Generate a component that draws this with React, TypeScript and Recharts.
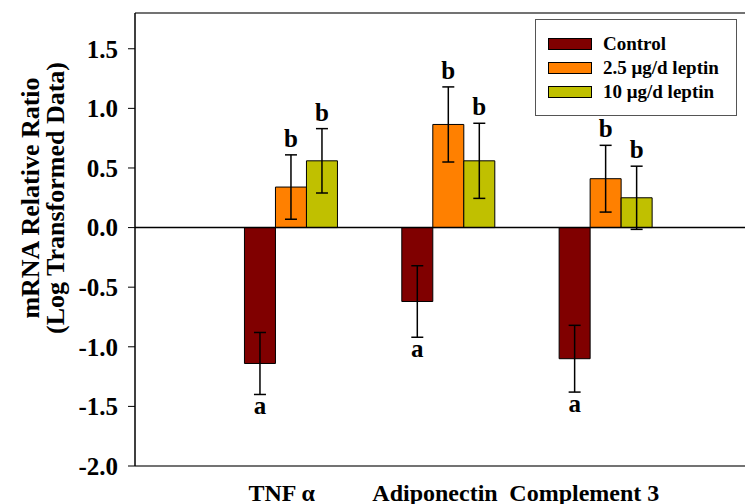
import React from "react";
import {
  BarChart,
  Bar,
  XAxis,
  YAxis,
  ErrorBar,
  ReferenceLine,
  Legend,
  LabelList,
} from "recharts";

const genes = ["TNF α", "Adiponectin", "Complement 3"];
const control = [-1.14, -0.62, -1.1];
const controlErr = [0.26, 0.3, 0.28];
const lowDose = [0.34, 0.865, 0.41];
const lowDoseErr = [0.27, 0.315, 0.28];
const highDose = [0.56, 0.56, 0.25];
const highDoseErr = [0.27, 0.315, 0.265];
const controlLetters = ["a", "a", "a"];
const lowDoseLetters = ["b", "b", "b"];
const highDoseLetters = ["b", "b", "b"];
const yTicks = [-2, -1.5, -1, -0.5, 0, 0.5, 1, 1.5];

const seriesNames = ["Control", "2.5 μg/d leptin", "10 μg/d leptin"];
const colors = ["#800000", "#FF8000", "#C0C000"];

const font = '"Liberation Serif", "Times New Roman", serif';

const data = genes.map((gene, i) => ({
  gene,
  control: control[i],
  controlErr: controlErr[i],
  controlLetter: controlLetters[i],
  lowDose: lowDose[i],
  lowDoseErr: lowDoseErr[i],
  lowDoseLetter: lowDoseLetters[i],
  highDose: highDose[i],
  highDoseErr: highDoseErr[i],
  highDoseLetter: highDoseLetters[i],
}));

// letters sit just past the end of each error bar
const letterRenderer = (valKey: string, errKey: string) => (props: any) => {
  const vb = props.viewBox ?? props;
  const x = Number(vb.x);
  const y = Number(vb.y);
  const w = Number(vb.width);
  const h = Number(vb.height);
  const row: any = data[props.index];
  const v = row[valKey];
  const err = row[errKey];
  const top = Math.min(y, y + h);
  const bottom = Math.max(y, y + h);
  const k = (bottom - top) / Math.abs(v);
  const ty = v > 0 ? top - err * k - 8 : bottom + err * k + 20;
  return (
    <text
      x={x + w / 2}
      y={ty}
      textAnchor="middle"
      fontFamily={font}
      fontWeight="bold"
      fontSize={25}
      fill="#000"
    >
      {props.value}
    </text>
  );
};

const labelShift = [-10, -14, -22];

const GeneTick = (props: any) => {
  const { x, y, payload, index } = props;
  return (
    <text
      x={x + (labelShift[index] ?? -15)}
      y={y + 27}
      textAnchor="middle"
      fontFamily={font}
      fontWeight="bold"
      fontSize={24}
      fill="#000"
    >
      {payload.value}
    </text>
  );
};

const YTitle = () => (
  <g fontFamily={font} fontWeight="bold" fontSize={26} fill="#000">
    <text transform="translate(31,190) rotate(-90)" textAnchor="middle">
      mRNA Relative Ratio
    </text>
    <text transform="translate(56,190) rotate(-90)" textAnchor="middle">
      (Log Transformed Data)
    </text>
  </g>
);

const LegendBox = () => (
  <div
    style={{
      width: 202,
      height: 97,
      boxSizing: "border-box",
      border: "1.5px solid #555",
      background: "#fff",
      paddingTop: 12,
      fontFamily: font,
      fontWeight: "bold",
      fontSize: 19,
      color: "#000",
    }}
  >
    {seriesNames.map((name, i) => (
      <div
        key={name}
        style={{ display: "flex", alignItems: "center", height: 24, paddingLeft: 12 }}
      >
        <span
          style={{
            display: "inline-block",
            width: 44,
            height: 12,
            background: colors[i],
            border: "1px solid #000",
            boxSizing: "border-box",
            marginRight: 11,
          }}
        />
        {name}
      </div>
    ))}
  </div>
);

export default function App() {
  return (
    <BarChart
      width={745}
      height={496}
      data={data}
      margin={{ top: 5, right: 0, left: 0, bottom: 0 }}
      barCategoryGap="20%"
      barGap={0}
    >
      <XAxis
        dataKey="gene"
        padding={{ left: 78, right: 68 }}
        height={38}
        tickLine={false}
        axisLine={{ stroke: "#444", strokeWidth: 1.5 }}
        tick={<GeneTick />}
        interval={0}
      />
      <YAxis
        width={127}
        domain={[-2, 1.8]}
        ticks={yTicks}
        allowDataOverflow
        tickFormatter={(v: number) => v.toFixed(1)}
        tick={{ fontFamily: font, fontWeight: "bold", fontSize: 25, fill: "#000" }}
        tickSize={7}
        tickMargin={10}
        tickLine={{ stroke: "#000" }}
        axisLine={{ stroke: "#000", strokeWidth: 1.5 }}
        label={{ content: () => <YTitle /> }}
      />
      <ReferenceLine y={1.8} stroke="#444" strokeWidth={1.5} />
      <Legend
        layout="vertical"
        align="center"
        verticalAlign="middle"
        content={() => <LegendBox />}
        wrapperStyle={{ position: "absolute", left: 527, top: 11, width: 202 }}
      />
      <Bar dataKey="control" fill={colors[0]} stroke="#000" strokeWidth={1} isAnimationActive={false}>
        <ErrorBar dataKey="controlErr" width={6} stroke="#000" strokeWidth={1.5} />
        <LabelList dataKey="controlLetter" content={letterRenderer("control", "controlErr")} />
      </Bar>
      <Bar dataKey="lowDose" fill={colors[1]} stroke="#000" strokeWidth={1} isAnimationActive={false}>
        <ErrorBar dataKey="lowDoseErr" width={6} stroke="#000" strokeWidth={1.5} />
        <LabelList dataKey="lowDoseLetter" content={letterRenderer("lowDose", "lowDoseErr")} />
      </Bar>
      <Bar dataKey="highDose" fill={colors[2]} stroke="#000" strokeWidth={1} isAnimationActive={false}>
        <ErrorBar dataKey="highDoseErr" width={6} stroke="#000" strokeWidth={1.5} />
        <LabelList dataKey="highDoseLetter" content={letterRenderer("highDose", "highDoseErr")} />
      </Bar>
      <ReferenceLine y={0} stroke="#000" strokeWidth={1.5} />
    </BarChart>
  );
}
